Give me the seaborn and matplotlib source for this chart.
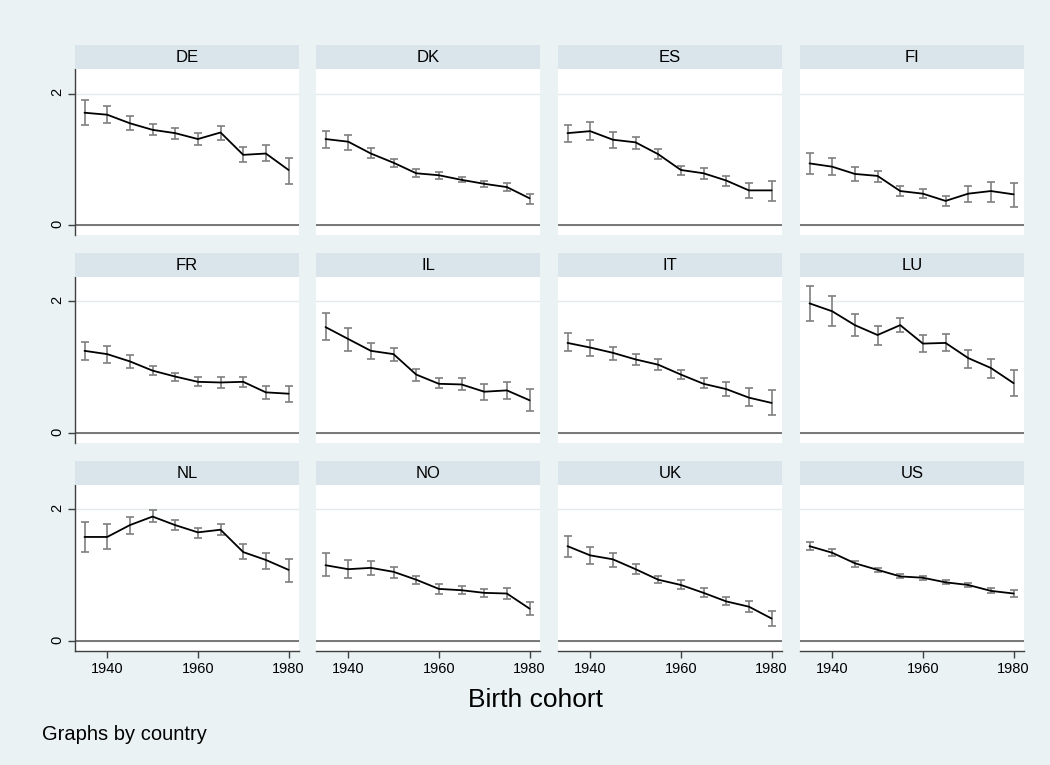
import numpy as np
import pandas as pd
import matplotlib
matplotlib.use("Agg")
import matplotlib.pyplot as plt
import seaborn as sns

# ---------------------------------------------------------------
# data: mean by birth cohort with 95% CI, one panel per country
# ---------------------------------------------------------------
cohorts = [1935, 1940, 1945, 1950, 1955, 1960, 1965, 1970, 1975, 1980]
countries = ["DE", "DK", "ES", "FI", "FR", "IL", "IT", "LU", "NL", "NO", "UK", "US"]

de_mean = [1.71, 1.68, 1.55, 1.45, 1.40, 1.31, 1.41, 1.07, 1.09, 0.84]
de_lo   = [1.52, 1.55, 1.44, 1.37, 1.31, 1.22, 1.30, 0.96, 0.98, 0.62]
de_hi   = [1.90, 1.81, 1.66, 1.54, 1.48, 1.40, 1.51, 1.19, 1.22, 1.02]

dk_mean = [1.31, 1.27, 1.09, 0.95, 0.79, 0.76, 0.69, 0.63, 0.58, 0.41]
dk_lo   = [1.18, 1.15, 1.02, 0.89, 0.74, 0.71, 0.65, 0.58, 0.52, 0.32]
dk_hi   = [1.43, 1.37, 1.17, 1.01, 0.85, 0.81, 0.73, 0.68, 0.64, 0.47]

es_mean = [1.40, 1.43, 1.30, 1.26, 1.08, 0.84, 0.79, 0.68, 0.53, 0.53]
es_lo   = [1.26, 1.30, 1.18, 1.16, 1.00, 0.76, 0.71, 0.59, 0.42, 0.37]
es_hi   = [1.52, 1.57, 1.42, 1.34, 1.16, 0.90, 0.87, 0.75, 0.64, 0.68]

fi_mean = [0.94, 0.89, 0.78, 0.75, 0.52, 0.48, 0.37, 0.48, 0.52, 0.47]
fi_lo   = [0.78, 0.76, 0.68, 0.66, 0.45, 0.41, 0.29, 0.36, 0.36, 0.28]
fi_hi   = [1.10, 1.02, 0.89, 0.82, 0.59, 0.55, 0.45, 0.59, 0.66, 0.64]

fr_mean = [1.25, 1.20, 1.09, 0.95, 0.86, 0.78, 0.77, 0.78, 0.62, 0.60]
fr_lo   = [1.11, 1.07, 0.99, 0.88, 0.79, 0.72, 0.69, 0.70, 0.52, 0.48]
fr_hi   = [1.38, 1.32, 1.18, 1.02, 0.92, 0.86, 0.85, 0.86, 0.71, 0.71]

il_mean = [1.61, 1.43, 1.25, 1.20, 0.89, 0.75, 0.74, 0.63, 0.65, 0.50]
il_lo   = [1.41, 1.25, 1.12, 1.09, 0.80, 0.68, 0.66, 0.51, 0.52, 0.33]
il_hi   = [1.82, 1.59, 1.37, 1.30, 0.97, 0.84, 0.84, 0.74, 0.78, 0.67]

it_mean = [1.37, 1.30, 1.22, 1.12, 1.04, 0.89, 0.75, 0.67, 0.54, 0.46]
it_lo   = [1.24, 1.17, 1.11, 1.04, 0.96, 0.83, 0.69, 0.57, 0.42, 0.28]
it_hi   = [1.52, 1.42, 1.31, 1.20, 1.12, 0.96, 0.84, 0.77, 0.68, 0.65]

lu_mean = [1.97, 1.85, 1.64, 1.49, 1.64, 1.36, 1.37, 1.14, 0.99, 0.76]
lu_lo   = [1.71, 1.63, 1.47, 1.34, 1.53, 1.23, 1.24, 0.99, 0.84, 0.56]
lu_hi   = [2.23, 2.08, 1.81, 1.63, 1.75, 1.49, 1.50, 1.27, 1.13, 0.96]

nl_mean = [1.58, 1.58, 1.76, 1.89, 1.76, 1.65, 1.69, 1.35, 1.23, 1.08]
nl_lo   = [1.35, 1.40, 1.63, 1.80, 1.68, 1.56, 1.61, 1.25, 1.10, 0.90]
nl_hi   = [1.81, 1.77, 1.89, 1.99, 1.84, 1.72, 1.77, 1.47, 1.34, 1.25]

no_mean = [1.15, 1.09, 1.11, 1.05, 0.93, 0.79, 0.77, 0.73, 0.72, 0.49]
no_lo   = [0.99, 0.95, 1.00, 0.96, 0.87, 0.72, 0.71, 0.66, 0.64, 0.39]
no_hi   = [1.33, 1.23, 1.22, 1.13, 0.99, 0.86, 0.83, 0.79, 0.80, 0.59]

uk_mean = [1.44, 1.30, 1.24, 1.09, 0.93, 0.85, 0.73, 0.60, 0.52, 0.34]
uk_lo   = [1.28, 1.17, 1.13, 1.01, 0.88, 0.79, 0.67, 0.54, 0.44, 0.23]
uk_hi   = [1.59, 1.42, 1.33, 1.17, 0.99, 0.92, 0.80, 0.67, 0.61, 0.45]

us_mean = [1.44, 1.34, 1.18, 1.08, 0.98, 0.96, 0.89, 0.85, 0.76, 0.72]
us_lo   = [1.38, 1.29, 1.13, 1.04, 0.95, 0.93, 0.86, 0.82, 0.73, 0.67]
us_hi   = [1.50, 1.40, 1.22, 1.11, 1.01, 0.99, 0.92, 0.88, 0.80, 0.77]

series = {
    "DE": (de_mean, de_lo, de_hi), "DK": (dk_mean, dk_lo, dk_hi),
    "ES": (es_mean, es_lo, es_hi), "FI": (fi_mean, fi_lo, fi_hi),
    "FR": (fr_mean, fr_lo, fr_hi), "IL": (il_mean, il_lo, il_hi),
    "IT": (it_mean, it_lo, it_hi), "LU": (lu_mean, lu_lo, lu_hi),
    "NL": (nl_mean, nl_lo, nl_hi), "NO": (no_mean, no_lo, no_hi),
    "UK": (uk_mean, uk_lo, uk_hi), "US": (us_mean, us_lo, us_hi),
}

df = pd.concat([
    pd.DataFrame({"country": c, "cohort": cohorts, "mean": m, "lo": lo, "hi": hi})
    for c, (m, lo, hi) in series.items()
], ignore_index=True)

# ---------------------------------------------------------------
# style (Stata s2color look)
# ---------------------------------------------------------------
sns.set_theme(style="white")
plt.rcParams["font.family"] = ["Liberation Sans", "DejaVu Sans"]
plt.rcParams["text.color"] = "black"

BG     = "#EAF2F3"
STRIP  = "#D9E5EB"
AXCOL  = "#404040"
GRID   = "#E3EBEE"
CI_COL = "#7F7F7F"

W, H = 1050, 765
fig = plt.figure(figsize=(W / 100, H / 100), dpi=100, facecolor=BG)

col_left = [75, 316, 558, 800]
panel_w = 224
row_top = [69.3, 277, 485]
row_bot = [235, 443, 650.6]
strip_h = 24

for i, c in enumerate(countries):
    r, k = divmod(i, 4)
    x0 = col_left[k]
    ax = fig.add_axes([x0 / W, 1 - row_bot[r] / H,
                       panel_w / W, (row_bot[r] - row_top[r]) / H])
    ax.set_facecolor("white")
    sub = df[df["country"] == c]

    ax.errorbar(sub["cohort"], sub["mean"],
                yerr=[sub["mean"] - sub["lo"], sub["hi"] - sub["mean"]],
                fmt="none", ecolor=CI_COL, elinewidth=1.2,
                capsize=2.8, capthick=1.2, zorder=2)
    sns.lineplot(data=sub, x="cohort", y="mean", color="black",
                 linewidth=1.3, errorbar=None, ax=ax, zorder=3)

    ax.axhline(0, color="#555555", lw=1.1, zorder=1)
    ax.set_xlim(1932.9, 1982.3)
    ax.set_ylim(-0.148, 2.37)
    ax.set_yticks([0, 2])
    ax.set_xticks([1940, 1960, 1980])
    ax.yaxis.grid(True, color=GRID, lw=1)
    ax.xaxis.grid(False)
    ax.set_xlabel("")
    ax.set_ylabel("")

    for s in ax.spines.values():
        s.set_visible(False)
    if k == 0:
        ax.spines["left"].set_visible(True)
        ax.spines["left"].set_color(AXCOL)
        ax.spines["left"].set_linewidth(1)
    if r == 2:
        ax.spines["bottom"].set_visible(True)
        ax.spines["bottom"].set_color(AXCOL)
        ax.spines["bottom"].set_linewidth(1)

    ax.tick_params(axis="y", left=(k == 0), labelleft=(k == 0), length=5,
                   width=1, color=AXCOL, labelsize=10.5, pad=3,
                   labelrotation=90, labelcolor="black")
    ax.tick_params(axis="x", bottom=(r == 2), labelbottom=(r == 2), length=5,
                   width=1, color=AXCOL, labelsize=10.5, pad=3,
                   labelcolor="black")

    # strip header
    sax = fig.add_axes([x0 / W, 1 - row_top[r] / H,
                        panel_w / W, strip_h / H])
    sax.set_facecolor(STRIP)
    sax.set_xticks([])
    sax.set_yticks([])
    for s in sax.spines.values():
        s.set_visible(False)
    sax.text(0.5, 0.5, c, ha="center", va="center", fontsize=12,
             color="black", transform=sax.transAxes)

fig.text(535 / W, 1 - 700 / H, "Birth cohort", ha="center", va="center",
         fontsize=19, color="black")
fig.text(42 / W, 1 - 735 / H, "Graphs by country", ha="left", va="center",
         fontsize=14.5, color="black")

fig.savefig("out.png", dpi=100, facecolor=BG)
